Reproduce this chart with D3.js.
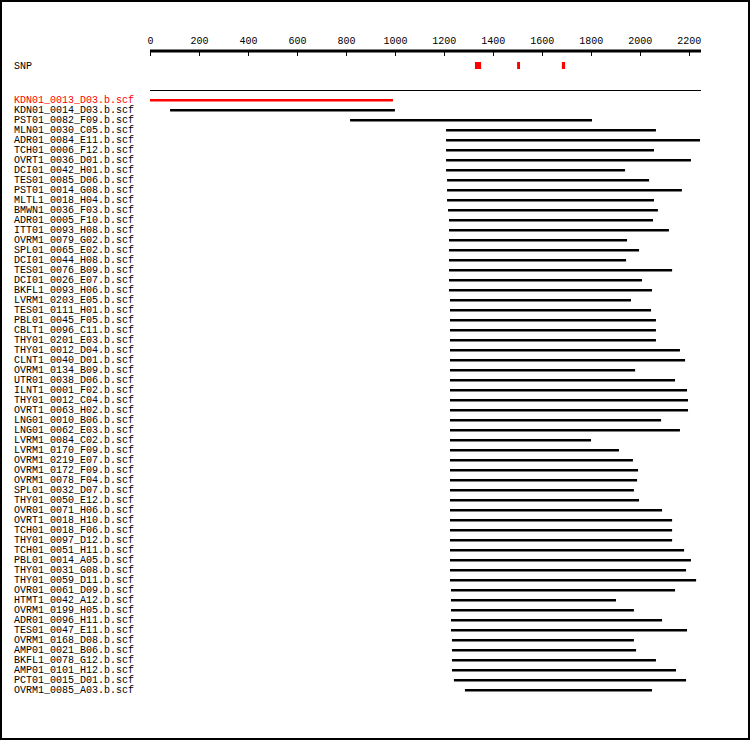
<!DOCTYPE html>
<html>
<head>
<meta charset="utf-8">
<script src="https://cdn.jsdelivr.net/npm/d3@7"></script>
<style>
  body { margin: 0; background: #fff; }
  text { font-family: "Liberation Mono", monospace; font-size: 10px; fill: #000; }
</style>
</head>
<body>
<script>
const reads = [
    "KDN01_0013_D03.b.scf", "KDN01_0014_D03.b.scf", "PST01_0082_F09.b.scf", "MLN01_0030_C05.b.scf",
    "ADR01_0084_E11.b.scf", "TCH01_0006_F12.b.scf", "OVRT1_0036_D01.b.scf", "DCI01_0042_H01.b.scf",
    "TES01_0085_D06.b.scf", "PST01_0014_G08.b.scf", "MLTL1_0018_H04.b.scf", "BMWN1_0036_F03.b.scf",
    "ADR01_0005_F10.b.scf", "ITT01_0093_H08.b.scf", "OVRM1_0079_G02.b.scf", "SPL01_0065_E02.b.scf",
    "DCI01_0044_H08.b.scf", "TES01_0076_B09.b.scf", "DCI01_0026_E07.b.scf", "BKFL1_0093_H06.b.scf",
    "LVRM1_0203_E05.b.scf", "TES01_0111_H01.b.scf", "PBL01_0045_F05.b.scf", "CBLT1_0096_C11.b.scf",
    "THY01_0201_E03.b.scf", "THY01_0012_D04.b.scf", "CLNT1_0040_D01.b.scf", "OVRM1_0134_B09.b.scf",
    "UTR01_0038_D06.b.scf", "ILNT1_0001_F02.b.scf", "THY01_0012_C04.b.scf", "OVRT1_0063_H02.b.scf",
    "LNG01_0010_B06.b.scf", "LNG01_0062_E03.b.scf", "LVRM1_0084_C02.b.scf", "LVRM1_0170_F09.b.scf",
    "OVRM1_0219_E07.b.scf", "OVRM1_0172_F09.b.scf", "OVRM1_0078_F04.b.scf", "SPL01_0032_D07.b.scf",
    "THY01_0050_E12.b.scf", "OVR01_0071_H06.b.scf", "OVRT1_0018_H10.b.scf", "TCH01_0018_F06.b.scf",
    "THY01_0097_D12.b.scf", "TCH01_0051_H11.b.scf", "PBL01_0014_A05.b.scf", "THY01_0031_G08.b.scf",
    "THY01_0059_D11.b.scf", "OVR01_0061_D09.b.scf", "HTMT1_0042_A12.b.scf", "OVRM1_0199_H05.b.scf",
    "ADR01_0096_H11.b.scf", "TES01_0047_E11.b.scf", "OVRM1_0168_D08.b.scf", "AMP01_0021_B06.b.scf",
    "BKFL1_0078_G12.b.scf", "AMP01_0101_H12.b.scf", "PCT01_0015_D01.b.scf", "OVRM1_0085_A03.b.scf"
];

const readStart = [
    0, 82, 817, 1209, 1209, 1209, 1209, 1209, 1213, 1213, 1213, 1217,
    1221, 1221, 1221, 1221, 1221, 1221, 1221, 1221, 1225, 1225, 1225, 1225,
    1225, 1225, 1225, 1225, 1225, 1225, 1225, 1225, 1225, 1225, 1225, 1225,
    1225, 1225, 1225, 1225, 1225, 1225, 1225, 1225, 1225, 1225, 1225, 1225,
    1225, 1229, 1229, 1229, 1229, 1229, 1233, 1233, 1233, 1233, 1241, 1286
];

const readEnd = [
    992, 1000, 1805, 2066, 2246, 2058, 2209, 1940, 2038, 2172, 2058, 2074,
    2054, 2119, 1948, 1997, 1944, 2132, 2009, 2050, 1964, 2046, 2066, 2066,
    2066, 2164, 2185, 1981, 2144, 2193, 2197, 2197, 2087, 2164, 1801, 1915,
    1972, 1993, 1989, 1976, 1997, 2091, 2132, 2132, 2132, 2181, 2209, 2189,
    2230, 2144, 1903, 1976, 2091, 2193, 1976, 1985, 2066, 2148, 2189, 2050
];

const highlight = ["KDN01_0013_D03.b.scf"];

const snpStart = [1327, 1499, 1682];
const snpEnd = [1352, 1511, 1695];

const tickValues = [0, 200, 400, 600, 800, 1000, 1200, 1400, 1600, 1800, 2000, 2200];
const seqLength = 2250;

const width = 750, height = 740;

var x = d3.scaleLinear().domain([0, seqLength]).range([150, 701]);
var y = d3.scaleBand().domain(reads).range([95, 95 + reads.length * 10]);

const svg = d3.select("body")
    .append("svg")
    .attr("width", width)
    .attr("height", height);

// frame
svg.append("rect")
    .attr("x", 1).attr("y", 1)
    .attr("width", width - 2).attr("height", height - 2)
    .attr("fill", "#fff")
    .attr("stroke", "#000")
    .attr("stroke-width", 2);

// ruler: labels on top, tick marks under the thick line
svg.append("g")
    .attr("transform", "translate(0,47)")
    .call(d3.axisTop(x).tickValues(tickValues).tickSize(0).tickPadding(3).tickFormat(d3.format("d")))
    .call(g => g.select(".domain").remove())
    .selectAll("text")
    .attr("font-family", "Liberation Mono")
    .attr("font-size", 10)
    .attr("fill", "#000");

svg.append("g")
    .attr("transform", "translate(0,51)")
    .call(d3.axisBottom(x).tickValues(tickValues).tickSize(5).tickFormat(""))
    .call(g => g.select(".domain").remove())
    .selectAll("line")
    .attr("stroke", "#000")
    .attr("shape-rendering", "crispEdges");

svg.append("rect")
    .attr("x", x(0))
    .attr("y", 49.5)
    .attr("width", x(seqLength) - x(0))
    .attr("height", 3)
    .attr("fill", "#000");

// SNP track
svg.append("text")
    .attr("x", 14)
    .attr("y", 69)
    .text("SNP");

svg.selectAll(".snp")
    .data(snpStart)
    .enter()
    .append("rect")
    .attr("class", "snp")
    .attr("x", d => x(d))
    .attr("y", 62)
    .attr("width", (d, i) => x(snpEnd[i]) - x(d))
    .attr("height", 7)
    .attr("fill", "#f00");

// consensus line
svg.append("line")
    .attr("x1", x(0))
    .attr("x2", x(seqLength))
    .attr("y1", 90.5)
    .attr("y2", 90.5)
    .attr("stroke", "#000")
    .attr("stroke-width", 1);

// reads
const rows = svg.selectAll(".read")
    .data(reads)
    .enter()
    .append("g")
    .attr("class", "read");

rows.append("text")
    .attr("x", 14)
    .attr("y", d => y(d) + 8)
    .style("fill", d => highlight.includes(d) ? "#f00" : "#000")
    .text(d => d);

rows.append("rect")
    .attr("x", (d, i) => x(readStart[i]))
    .attr("y", d => y(d) + 4)
    .attr("width", (d, i) => x(readEnd[i]) - x(readStart[i]))
    .attr("height", 2.5)
    .attr("fill", d => highlight.includes(d) ? "#f00" : "#000");
</script>
</body>
</html>
